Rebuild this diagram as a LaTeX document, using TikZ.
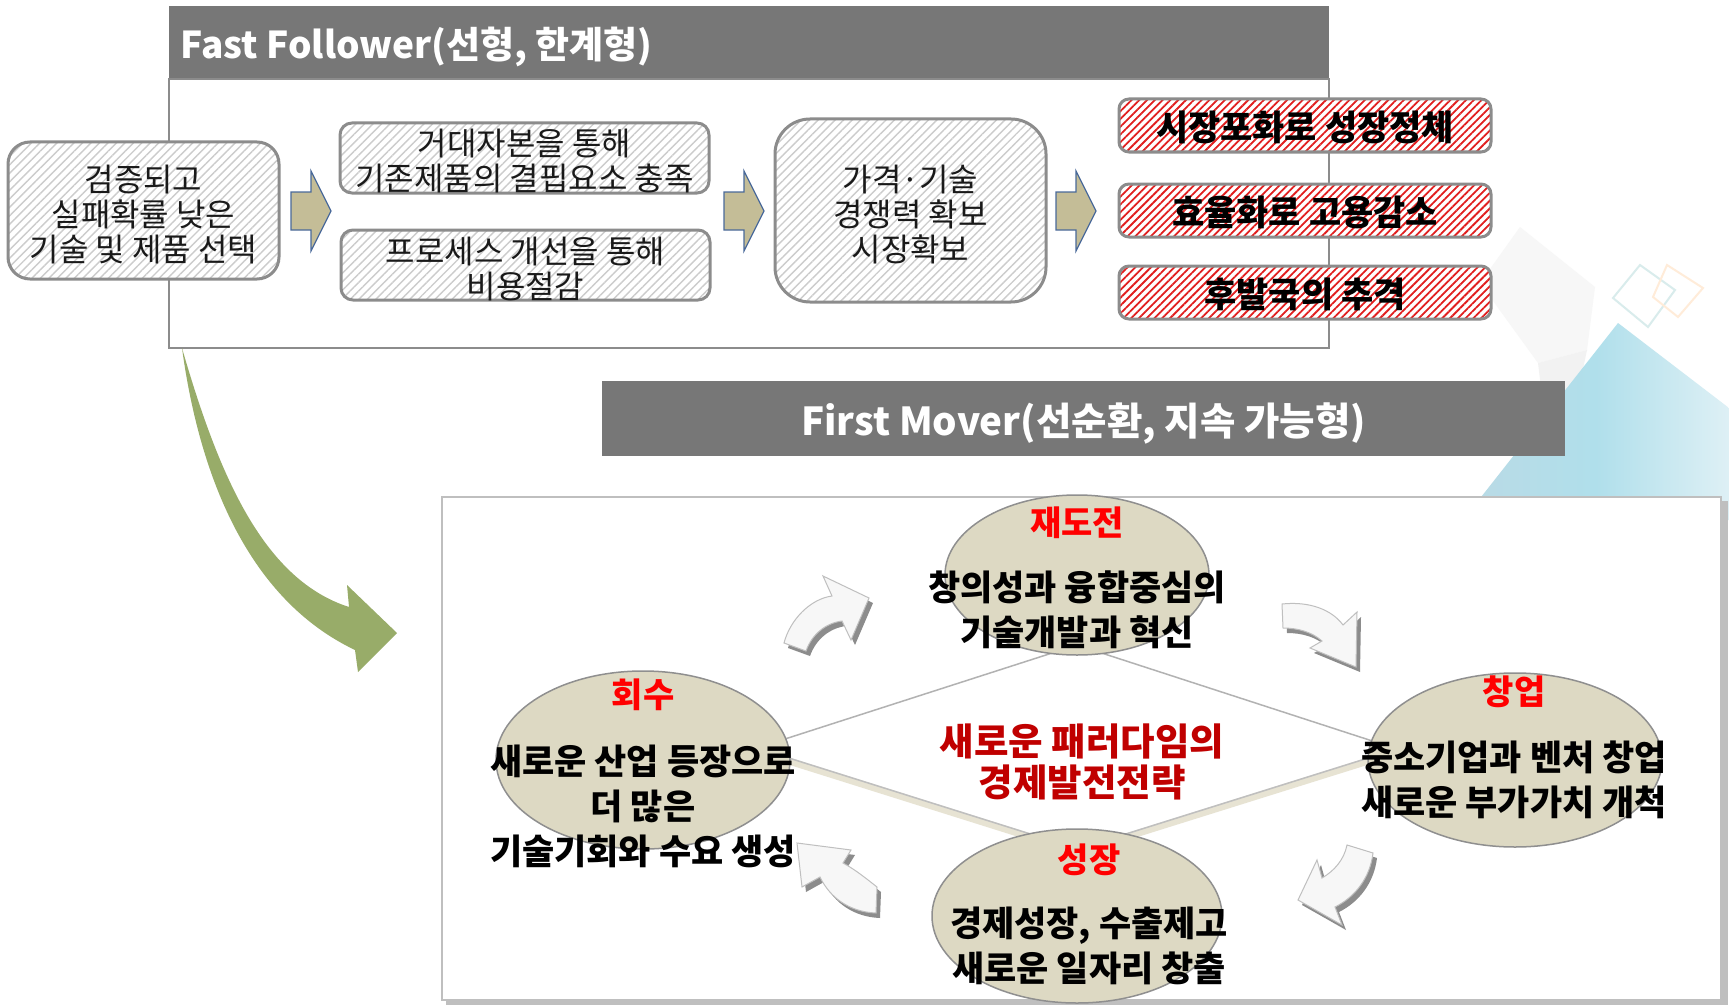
\documentclass[tikz,border=0pt]{standalone}
\usepackage{fontspec}
\setmainfont{Noto Sans CJK KR}
\usetikzlibrary{patterns.meta,shapes.geometric,calc}
\definecolor{bargray}{HTML}{777777}
\definecolor{boxline}{HTML}{8C8C8C}
\definecolor{tanfill}{HTML}{C4BD97}
\definecolor{arrowblue}{HTML}{4A6A9A}
\definecolor{ellfill}{HTML}{DDD9C3}
\definecolor{ellline}{HTML}{8F8F8F}
\definecolor{olivegreen}{RGB}{152,172,105}
\definecolor{darkred}{HTML}{C00000}
\definecolor{beigeband}{HTML}{E7E3D3}
\definecolor{bluel}{RGB}{186,218,229}
\definecolor{bluem}{RGB}{176,223,235}
\definecolor{bluer}{RGB}{222,240,245}
\definecolor{stripered}{RGB}{225,30,30}
\newcommand\cwArrowA{(784,643) .. controls (790,620) and (810,599) .. (832,596) -- (823,576) -- (869,598) -- (851,640) -- (842,621) .. controls (826,623) and (812,634) .. (806,651) -- cycle}
\newcommand\cwArrowB{(1282,604) .. controls (1310,601) and (1332,610) .. (1343,625) -- (1357,612) -- (1356,667) -- (1310,648) -- (1322,641) .. controls (1312,632) and (1298,628) .. (1283,628) -- cycle}
\newcommand\cwArrowC{(1373,853) .. controls (1370,878) and (1355,897) .. (1335,907) -- (1342,925) -- (1298,900) -- (1317,860) -- (1322,878) .. controls (1334,871) and (1344,860) .. (1347,845) -- cycle}
\newcommand\cwArrowD{(876,913) .. controls (850,912) and (830,898) .. (820,877) -- (802,887) -- (797,843) -- (851,850) -- (843,863) .. controls (856,870) and (868,880) .. (877,887) -- cycle}
\newcommand\tanArrowShape{(0,192) -- (20,192) -- (20,171) -- (40,211) -- (20,251) -- (20,230) -- (0,230) -- cycle}
\begin{document}
\begin{tikzpicture}[x=1pt,y=-1pt,
  hatchbox/.style={draw=boxline, line width=3pt, preaction={fill=white},
    pattern={Lines[angle=45,distance=6pt,line width=1.4pt]}, pattern color=black!20,
    inner sep=0pt},
  boxtext/.style={align=center, inner sep=0pt, text=black!90, font=\fontsize{32}{35}\selectfont},
  redbox/.style={draw=boxline, line width=3pt, rounded corners=10pt, preaction={fill=white},
    pattern={Lines[angle=45,distance=5.5pt,line width=1.8pt]}, pattern color=stripered,
    inner sep=0pt, minimum width=372pt, minimum height=53pt},
  redtext/.style={font=\bfseries\fontsize{35}{40}\selectfont},
  ell/.style={ellipse, draw=ellline, fill=ellfill, line width=1.5pt, inner sep=0pt},
  redlabel/.style={text=red, font=\bfseries\fontsize{34}{38}\selectfont},
  ebody/.style={align=center, font=\bfseries\fontsize{35}{45}\selectfont},
  tanarrow/.style={fill=tanfill, draw=arrowblue, line width=1.2pt},
  cwshadow/.style={fill=black!45},
  cwarrow/.style={fill=black!3, draw=black!25, line width=1pt},
  titlebar/.style={fill=bargray, inner sep=0pt},
  titletext/.style={text=white, font=\bfseries\fontsize{37}{44}\selectfont},
]
\useasboundingbox (0,0) rectangle (1729,1006);
\fill[white] (0,0) rectangle (1729,1006);
% faint background decoration
\fill[black!3] (1480,283) -- (1520,227) -- (1595,287) -- (1587,350) -- (1538,363) -- cycle;
\fill[black!5] (1538,363) -- (1587,350) -- (1572,420) -- (1548,445) -- cycle;
\shade[left color=bluel, right color=bluer, middle color=bluem] (1618,323) -- (1729,408) -- (1729,520) -- (1463,520) -- cycle;
\draw[line width=2pt, color=teal!15] (1640,265) -- (1675,290) -- (1648,327) -- (1613,298) -- cycle;
\draw[line width=2pt, color=orange!15] (1667,265) -- (1703,288) -- (1678,317) -- (1653,297) -- cycle;

% Fast Follower panel
\node[titlebar, anchor=north west, minimum width=1160pt, minimum height=73pt] (ffbar) at (169,6) {};
\node[titletext, anchor=west] (fftitle) at (177,46.5) {Fast Follower(선형, 한계형)};
\draw[draw=boxline, line width=1.5pt, fill=white] (169,79) rectangle (1329,348);

\node[hatchbox, rounded corners=22pt, minimum width=271pt, minimum height=137pt] (a) at (143.5,210.5) {};
\node[boxtext] (at) at ([yshift=-4pt]a.center) {검증되고\\실패확률 낮은\\기술 및 제품 선택};
\node[hatchbox, rounded corners=12pt, minimum width=369pt, minimum height=70pt] (b1) at (524.5,158) {};
\node[boxtext] (b1t) at ([yshift=-3.5pt]b1.center) {거대자본을 통해\\기존제품의 결핍요소 충족};
\node[hatchbox, rounded corners=12pt, minimum width=369pt, minimum height=70pt] (b2) at (525.5,265) {};
\node[boxtext] (b2t) at ([yshift=-4pt]b2.center) {프로세스 개선을 통해\\비용절감};
\node[hatchbox, rounded corners=35pt, minimum width=271pt, minimum height=183pt] (c) at (910.5,210.5) {};
\node[boxtext] (ct) at ([yshift=-4pt]c.center) {가격·기술\\경쟁력 확보\\시장확보};
\node[redbox] (r1) at (1305,125.5) {};
\node[redtext] (r1t) at ([yshift=-2pt]r1.center) {시장포화로 성장정체};
\node[redbox] (r2) at (1305,210.5) {};
\node[redtext] (r2t) at ([yshift=-2pt]r2.center) {효율화로 고용감소};
\node[redbox] (r3) at (1305,292.5) {};
\node[redtext] (r3t) at ([yshift=-2pt]r3.center) {후발국의 추격};

\begin{scope}[shift={(291,0)}] \draw[tanarrow] \tanArrowShape; \end{scope}
\begin{scope}[shift={(724,0)}] \draw[tanarrow] \tanArrowShape; \end{scope}
\begin{scope}[shift={(1056,0)}] \draw[tanarrow] \tanArrowShape; \end{scope}

% First Mover panel
\node[titlebar, anchor=north west, minimum width=963pt, minimum height=75pt] (fmbar) at (602,381) {};
\node[titletext, font=\bfseries\fontsize{38.5}{44}\selectfont] (fmtitle) at ([yshift=-4.5pt]fmbar.center) {First Mover(선순환, 지속 가능형)};

\fill[black!25] (446,501) rectangle (1728,1005);
\draw[draw=black!25, line width=1.5pt, fill=white] (442,497) rectangle (1721,1000);

\coordinate (dT) at (1077,645);
\coordinate (dL) at (757,748);
\coordinate (dB) at (1078,849);
\coordinate (dR) at (1397,749);
\draw[black!30, line width=1.5pt] (dL) -- (dT) -- (dR);
\draw[beigeband, line width=7pt] ([yshift=-3pt]dL) -- ([yshift=-3pt]dB) -- ([yshift=-3pt]dR);
\draw[black!25, line width=1.5pt] (dL) -- (dB) -- (dR);

\node[ell, minimum width=264pt, minimum height=160pt] (e1) at (1077,575) {};
\node[ell, minimum width=294pt, minimum height=178pt] (e2) at (643,760) {};
\node[ell, minimum width=294pt, minimum height=174pt] (e3) at (1515,760) {};
\node[ell, minimum width=290pt, minimum height=174pt] (e4) at (1077,916) {};

\node[redlabel] (l1) at (1077,523) {재도전};
\node[redlabel] (l2) at (643,695) {회수};
\node[redlabel] (l3) at (1514,692) {창업};
\node[redlabel] (l4) at (1089,860) {성장};

\node[ebody] (t1) at (1077,609.5) {창의성과 융합중심의\\기술개발과 혁신};
\node[ebody] (t2) at (643,806) {새로운 산업 등장으로\\더 많은\\기술기회와 수요 생성};
\node[ebody] (t3) at (1514,780) {중소기업과 벤처 창업\\새로운 부가가치 개척};
\node[ebody] (t4) at (1089,945.5) {경제성장, 수출제고\\새로운 일자리 창출};
\node[align=center, text=darkred, font=\bfseries\fontsize{37.5}{41}\selectfont] (ctr) at (1082,761.5) {새로운 패러다임의\\경제발전전략};

% curved cycle arrows
\fill[cwshadow, shift={(4,5)}] \cwArrowA;
\draw[cwarrow] \cwArrowA;
\fill[cwshadow, shift={(4,5)}] \cwArrowB;
\draw[cwarrow] \cwArrowB;
\fill[cwshadow, shift={(4,5)}] \cwArrowC;
\draw[cwarrow] \cwArrowC;
\fill[cwshadow, shift={(4,5)}] \cwArrowD;
\draw[cwarrow] \cwArrowD;

% green transition arrow
\coordinate (gstart) at (182,348);
\coordinate (gtip) at (397,633);
\fill[olivegreen] (gstart) .. controls (200,480) and (250,600) .. (355,650) -- (358,672) -- (gtip) -- (347,585) -- (349,607) .. controls (265,580) and (220,480) .. (gstart) -- cycle;
\end{tikzpicture}
\end{document}
